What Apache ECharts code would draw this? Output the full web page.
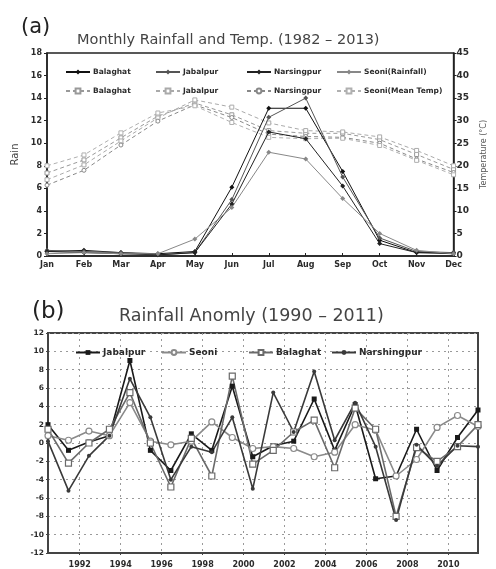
<!DOCTYPE html>
<html>
<head>
<meta charset="utf-8">
<script src="https://cdn.jsdelivr.net/npm/echarts@6/dist/echarts.min.js"></script>
<style>
  html, body { margin: 0; background: #fff; }
  #chart { width: 496px; height: 569px; }
</style>
</head>
<body>
<div id="chart"></div>
<script>
// (a) monthly rainfall and mean temperature
const months = ["Jan", "Feb", "Mar", "Apr", "May", "Jun", "Jul", "Aug", "Sep", "Oct", "Nov", "Dec"];
const rainBalaghat   = [0.4, 0.5, 0.3, 0.2, 0.4, 6.1, 13.1, 13.1, 7.5, 1.4, 0.3, 0.3];
const rainJabalpur   = [0.5, 0.4, 0.3, 0.1, 0.3, 5.0, 12.3, 14.0, 7.0, 1.6, 0.4, 0.3];
const rainNarsingpur = [0.4, 0.3, 0.2, 0.1, 0.3, 4.6, 11.0, 10.4, 6.2, 1.1, 0.3, 0.2];
const rainSeoni      = [0.2, 0.3, 0.2, 0.2, 1.5, 4.3, 9.2, 8.6, 5.1, 2.0, 0.5, 0.2];
const tempBalaghat   = [18.4, 21.3, 26.2, 31.0, 33.9, 31.3, 27.8, 27.2, 27.2, 25.8, 22.5, 19.2];
const tempJabalpur   = [16.9, 20.2, 25.5, 30.6, 34.6, 33.0, 29.5, 27.8, 27.5, 26.4, 23.4, 20.0];
const tempNarsingpur = [15.7, 19.0, 24.6, 29.9, 33.5, 30.7, 27.0, 26.5, 26.3, 25.0, 21.5, 18.5];
const tempSeoni      = [20.0, 22.4, 27.3, 31.7, 33.3, 29.6, 26.3, 26.0, 26.1, 24.5, 21.2, 18.0];

// (b) rainfall anomaly
const years = [1990, 1991, 1992, 1993, 1994, 1995, 1996, 1997, 1998, 1999, 2000,
               2001, 2002, 2003, 2004, 2005, 2006, 2007, 2008, 2009, 2010, 2011];
const anomJabalpur    = [2.0, -0.8, 0.1, 0.8, 9.0, -0.8, -3.0, 1.0, -0.8, 6.2, -1.5, -0.3, 0.2, 4.8, -0.8, 4.2, -3.9, -3.6, 1.5, -3.0, 0.6, 3.6];
const anomSeoni       = [0.8, 0.3, 1.3, 0.8, 4.4, 0.2, -0.2, 0.2, 2.3, 0.6, -0.6, -0.4, -0.6, -1.5, -1.0, 2.0, 1.4, -3.6, -1.8, 1.7, 3.0, 1.8];
const anomBalaghat    = [1.5, -2.2, 0.0, 1.5, 5.5, 0.0, -4.8, 0.5, -3.6, 7.3, -2.3, -0.8, 1.2, 2.5, -2.7, 3.8, 1.5, -8.0, -0.5, -2.0, -0.4, 2.0];
const anomNarshingpur = [0.2, -5.2, -1.4, 0.8, 7.0, 2.8, -4.0, -0.4, -1.0, 2.8, -5.0, 5.5, 1.2, 7.8, 0.3, 4.4, -0.4, -8.4, -0.2, -2.5, -0.3, -0.4];
const anomTickYears = [1992, 1994, 1996, 1998, 2000, 2002, 2004, 2006, 2008, 2010];

const fontFamily = "DejaVu Sans";
const ink = "#2b2b2b";
const tickShift = 0.45; // grid lines of (b) sit a little before each labelled year

const rainSeries = [
  { name: "rainBalaghat", label: "Balaghat", data: rainBalaghat, color: "#111", symbol: "diamond" },
  { name: "rainJabalpur", label: "Jabalpur", data: rainJabalpur, color: "#555", symbol: "diamond" },
  { name: "rainNarsingpur", label: "Narsingpur", data: rainNarsingpur, color: "#222", symbol: "diamond" },
  { name: "rainSeoni", label: "Seoni(Rainfall)", data: rainSeoni, color: "#888", symbol: "diamond" },
];
const tempSeries = [
  { name: "tempBalaghat", label: "Balaghat", data: tempBalaghat, color: "#999", symbol: "rect" },
  { name: "tempJabalpur", label: "Jabalpur", data: tempJabalpur, color: "#aaa", symbol: "rect" },
  { name: "tempNarsingpur", label: "Narsingpur", data: tempNarsingpur, color: "#888", symbol: "circle" },
  { name: "tempSeoni", label: "Seoni(Mean Temp)", data: tempSeoni, color: "#b0b0b0", symbol: "rect" },
];
const anomSeries = [
  { name: "Jabalpur", data: anomJabalpur, color: "#1a1a1a", symbol: "rect", filled: true, size: 5 },
  { name: "Seoni", data: anomSeoni, color: "#8a8a8a", symbol: "circle", filled: false, size: 6 },
  { name: "Balaghat", data: anomBalaghat, color: "#6a6a6a", symbol: "rect", filled: false, size: 6 },
  { name: "Narshingpur", data: anomNarshingpur, color: "#3a3a3a", symbol: "circle", filled: true, size: 4 },
];

const labelMap = {};
rainSeries.concat(tempSeries).forEach((s) => { labelMap[s.name] = s.label; });

const legendX = [60, 150, 241, 331];
const legendAnomX = [70, 156, 243, 326];

const legends = [];
rainSeries.forEach((s, i) => {
  legends.push({ data: [s.name], left: legendX[i], top: 63 });
});
tempSeries.forEach((s, i) => {
  legends.push({ data: [s.name], left: legendX[i], top: 82 });
});
anomSeries.forEach((s, i) => {
  legends.push({ data: [s.name], left: legendAnomX[i], top: 343 });
});
legends.forEach((l) => {
  Object.assign(l, {
    itemWidth: 24,
    itemHeight: 6,
    itemGap: 4,
    selectedMode: false,
    formatter: (name) => labelMap[name] || name,
    textStyle: { fontFamily, fontSize: l.top > 300 ? 9 : 7.5, fontWeight: "bold", color: ink, padding: [0, 0, 0, -2] },
  });
});

const series = [];
rainSeries.forEach((s) => {
  series.push({
    name: s.name,
    type: "line",
    xAxisIndex: 0,
    yAxisIndex: 0,
    data: s.data,
    symbol: s.symbol,
    symbolSize: 5,
    lineStyle: { color: s.color, width: 1 },
    itemStyle: { color: s.color },
    z: 3,
  });
});
tempSeries.forEach((s) => {
  series.push({
    name: s.name,
    type: "line",
    xAxisIndex: 0,
    yAxisIndex: 1,
    data: s.data,
    symbol: s.symbol,
    symbolSize: 4,
    lineStyle: { color: s.color, width: 1, type: [4, 3] },
    itemStyle: { color: "#fff", borderColor: s.color, borderWidth: 1 },
    z: 2,
  });
});
anomSeries.forEach((s) => {
  series.push({
    name: s.name,
    type: "line",
    xAxisIndex: 1,
    yAxisIndex: 2,
    data: years.map((y, i) => [y, s.data[i]]),
    symbol: s.symbol,
    symbolSize: s.size,
    lineStyle: { color: s.color, width: 1.6 },
    itemStyle: s.filled
      ? { color: s.color }
      : { color: "#fff", borderColor: s.color, borderWidth: 1.2 },
  });
});

const axisText = { fontFamily, fontSize: 8, fontWeight: "bold", color: ink };
const frame = { show: true, borderColor: "#222", borderWidth: 1.5, backgroundColor: "transparent" };

const option = {
  backgroundColor: "#fff",
  animation: false,
  title: [
    { text: "(a)", left: 16, top: 12, textStyle: { fontFamily, fontSize: 21, fontWeight: "normal", color: "#222" } },
    { text: "Monthly Rainfall and Temp. (1982 – 2013)", left: 72, top: 28,
      textStyle: { fontFamily, fontSize: 14.5, fontWeight: "normal", color: "#444" } },
    { text: "(b)", left: 27, top: 296, textStyle: { fontFamily, fontSize: 23, fontWeight: "normal", color: "#222" } },
    { text: "Rainfall Anomly (1990 – 2011)", left: 114, top: 302,
      textStyle: { fontFamily, fontSize: 17.5, fontWeight: "normal", color: "#444" } },
  ],
  legend: legends,
  grid: [
    Object.assign({ left: 47, right: 26, top: 53, height: 203 }, frame),
    Object.assign({ left: 48, right: 18, top: 333, height: 225 }, frame, { borderWidth: 2, borderColor: "#444" }),
  ],
  xAxis: [
    {
      gridIndex: 0,
      type: "category",
      data: months,
      boundaryGap: false,
      axisLine: { lineStyle: { color: "#222", width: 1.5 } },
      axisTick: { inside: true, length: 3, lineStyle: { color: "#222" } },
      axisLabel: Object.assign({ margin: 5 }, axisText),
      splitLine: { show: false },
    },
    {
      gridIndex: 1,
      type: "value",
      min: years[0],
      max: years[years.length - 1],
      axisLine: { onZero: false, lineStyle: { color: "#444", width: 2 } },
      axisTick: { show: true, length: 2, customValues: anomTickYears.map((y) => y - tickShift) },
      axisLabel: Object.assign({
        margin: 8,
        customValues: anomTickYears.map((y) => y - tickShift),
        formatter: (v) => String(Math.round(v)),
      }, axisText),
      splitLine: { show: true, lineStyle: { color: "#9a9a9a", type: [2, 4], width: 1 } },
    },
  ],
  yAxis: [
    {
      gridIndex: 0,
      type: "value",
      min: 0,
      max: 18,
      interval: 2,
      name: "Rain",
      nameLocation: "middle",
      nameGap: 27,
      nameRotate: 90,
      nameTextStyle: { fontFamily, fontSize: 10, color: "#444" },
      axisLine: { show: true, lineStyle: { color: "#222", width: 1.5 } },
      axisTick: { show: true, length: 3, lineStyle: { color: "#222" } },
      axisLabel: Object.assign({ margin: 5 }, axisText),
      splitLine: { show: false },
    },
    {
      gridIndex: 0,
      type: "value",
      position: "right",
      min: 0,
      max: 45,
      interval: 5,
      name: "Temperature (°C)",
      nameLocation: "middle",
      nameGap: 20,
      nameRotate: 90,
      nameTextStyle: { fontFamily, fontSize: 8, color: "#555" },
      axisLine: { show: true, lineStyle: { color: "#222", width: 1.5 } },
      axisTick: { show: true, length: 3, lineStyle: { color: "#222" } },
      axisLabel: Object.assign({ margin: 3 }, axisText, { fontSize: 9 }),
      splitLine: { show: false },
    },
    {
      gridIndex: 1,
      type: "value",
      min: -12,
      max: 12,
      interval: 2,
      axisLine: { show: true, onZero: false, lineStyle: { color: "#444", width: 2 } },
      axisTick: { show: true, length: 2, lineStyle: { color: "#444" } },
      axisLabel: Object.assign({ margin: 4 }, axisText, { fontSize: 7.5 }),
      splitLine: { show: true, lineStyle: { color: "#9a9a9a", type: [2, 4], width: 1 } },
    },
  ],
  series: series,
};

const myChart = echarts.init(document.getElementById("chart"), null, { renderer: "canvas" });
myChart.setOption(option);
</script>
</body>
</html>
